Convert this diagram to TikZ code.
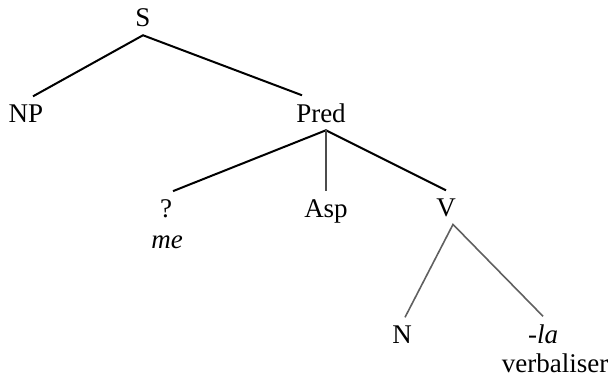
\documentclass[tikz,border=0pt]{standalone}
\usepackage{fontspec}
\setmainfont{Liberation Serif}
\usetikzlibrary{positioning}

\begin{document}
\begin{tikzpicture}[
    x=1pt, y=-1pt,
    cat/.style={anchor=base, inner sep=0pt, outer xsep=0pt, outer ysep=8pt},
    branch/.style={line width=2pt},
    faint/.style={line width=1.6pt, gray!75!black},
    font=\fontsize{27}{32}\selectfont
  ]
    \useasboundingbox (0,0) rectangle (610,380);
    \node[cat] (S) at (143,27) {S};
    \node[cat] (NP) at (26,122) {NP};
    \node[cat] (Pred) at (321,122) {Pred};
    \node[cat] (q) at (166,217) {?};
    \node[cat] (me) at (167,248) {\itshape me};
    \node[cat] (Asp) at (326,217) {Asp};
    \node[cat] (V) at (446,216) {V};
    \node[cat] (N) at (402,343) {N};
    \node[cat] (la) at (543,343) {\itshape -la};
    \node[cat] (verb) at (555,372) {verbaliser};
    \draw[branch] ([xshift=7pt]NP.north) -- (S.south) -- ([xshift=-19pt]Pred.north);
    \draw[branch] ([xshift=7pt]q.north) -- ([xshift=5pt]Pred.south) -- (V.north);
    \draw[line width=1.1pt, gray!60!black] ([xshift=5pt]Pred.south) -- (Asp.north);
    \draw[faint] ([xshift=3pt]N.north) -- ([xshift=7pt]V.south) -- (la.north);
  \end{tikzpicture}
\end{document}
